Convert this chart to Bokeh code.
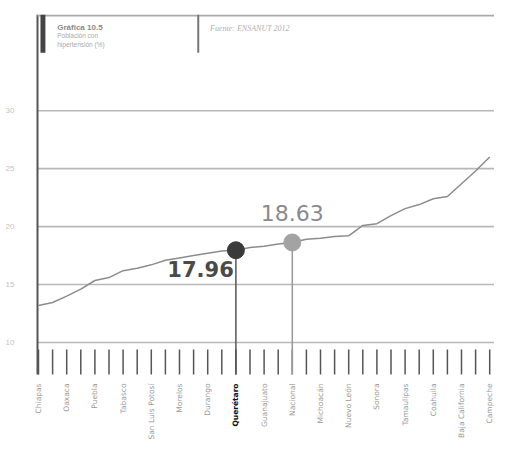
import math
from bokeh.plotting import figure
from bokeh.models import FixedTicker, Label, BoxAnnotation
from bokeh.core.properties import value
from bokeh.embed import file_html
from bokeh.resources import INLINE

# ---- data ----
states = ["Chiapas", "Guerrero", "Oaxaca", "Quintana Roo", "Puebla", "Hidalgo",
          "Tabasco", "Tlaxcala", "San Luis Potosí", "Zacatecas", "Morelos",
          "Veracruz", "Durango", "Yucatán", "Querétaro", "Aguascalientes",
          "Guanajuato", "México", "Nacional", "Jalisco", "Michoacán",
          "Distrito Federal", "Nuevo León", "Nayarit", "Sonora", "Sinaloa",
          "Tamaulipas", "Colima", "Coahuila", "Chihuahua", "Baja California",
          "Baja California Sur", "Campeche"]
values = [13.2, 13.45, 14.0, 14.6, 15.35, 15.6, 16.2, 16.4, 16.7, 17.1, 17.3,
          17.5, 17.7, 17.9, 17.96, 18.2, 18.3, 18.5, 18.63, 18.9, 19.0, 19.15,
          19.2, 20.1, 20.25, 20.95, 21.55, 21.9, 22.4, 22.6, 23.7, 24.8, 26.0]
y_ticks = [10, 15, 20, 25, 30]
highlight = "Querétaro"
national = "Nacional"
title = "Gráfica 10.5"
subtitle = ["Población con", "hipertensión (%)"]
source_txt = "Fuente: ENSANUT 2012"

idx = list(range(len(states)))
qi = states.index(highlight)
ni = states.index(national)
base = y_ticks[0]
px = 1 / 11.59   # one pixel in y data units
pxx = 1 / 14.1   # one pixel in x data units

y_top = 38.3
y_bottom = base - 106 * px
x_start = -8 * pxx
x_end = x_start + 464 * pxx
axis_x = -1 * pxx

p = figure(width=494, height=448, x_range=(x_start, x_end), y_range=(y_bottom, y_top),
           output_backend="svg", toolbar_location=None,
           min_border_left=30, min_border_right=0, min_border_top=14,
           min_border_bottom=0)
p.outline_line_color = None
p.xaxis.visible = False
p.xgrid.visible = False
p.ygrid.visible = False

# y axis (labels only)
p.yaxis.ticker = FixedTicker(ticks=y_ticks)
p.yaxis.axis_line_color = None
p.yaxis.major_tick_line_color = None
p.yaxis.minor_tick_line_color = None
p.yaxis.major_label_text_color = "#c4c4c4"
p.yaxis.major_label_text_font_size = "8px"
p.yaxis.major_label_standoff = 10

# horizontal grid lines starting at the axis
p.segment(x0=[axis_x] * len(y_ticks), y0=y_ticks, x1=[x_end] * len(y_ticks), y1=y_ticks,
          line_color="#b8b8b8", line_width=1.6)

tick_top = base - 7 * px
tick_bot = base - 32 * px
label_y = base - 41 * px

# vertical axis line
p.segment(x0=[axis_x], y0=[y_top], x1=[axis_x], y1=[tick_bot], line_color="#555555", line_width=2)

# category ticks
p.segment(x0=idx, y0=[tick_top] * len(idx), x1=idx, y1=[tick_bot] * len(idx),
          line_color="#555555", line_width=1.5)

# category labels (every other)
lab_x = [i for i in idx if i % 2 == 0 and i != qi]
p.text(x=lab_x, y=[label_y] * len(lab_x), text=[states[i] for i in lab_x],
       angle=math.pi / 2, text_align="right", text_baseline="middle",
       text_font=value("DejaVu Sans"), text_font_size="7.5px", text_color="#9a9a9a")
p.text(x=[qi], y=[label_y], text=[highlight], angle=math.pi / 2,
       text_align="right", text_baseline="middle", text_font=value("DejaVu Sans"),
       text_font_style="bold", text_font_size="7.5px", text_color="#111111")

# header
p.segment(x0=[axis_x], y0=[y_top - 0.08], x1=[x_end], y1=[y_top - 0.08],
          line_color="#aaaaaa", line_width=2)
p.add_layout(BoxAnnotation(left=0.14, right=0.49, top=y_top, bottom=35.0,
                           fill_color="#444444", fill_alpha=1, line_color=None))
p.segment(x0=[11.33], y0=[35.0], x1=[11.33], y1=[y_top], line_color="#777777", line_width=2)
p.add_layout(Label(x=1.33, y=37.6, text=title, text_font="Liberation Sans",
                   text_font_style="bold", text_font_size="8px", text_color="#8a8a8a",
                   text_baseline="top"))
p.add_layout(Label(x=1.33, y=36.75, text=subtitle[0], text_font="Liberation Sans",
                   text_font_size="6.5px", text_color="#aaaaaa", text_baseline="top"))
p.add_layout(Label(x=1.33, y=36.05, text=subtitle[1], text_font="Liberation Sans",
                   text_font_size="6.5px", text_color="#aaaaaa", text_baseline="top"))
p.add_layout(Label(x=12.17, y=37.45, text=source_txt, text_font="Liberation Serif",
                   text_font_style="italic", text_font_size="8px", text_color="#b0b0b0",
                   text_baseline="top"))

# series
p.line(idx, values, line_color="#8c8c8c", line_width=1.5)
p.segment(x0=[qi, ni], y0=[tick_bot, tick_bot], x1=[qi, ni], y1=[values[qi], values[ni]],
          line_color=["#555555", "#999999"], line_width=1.5)
p.scatter([qi], [values[qi]], size=17, fill_color="#3a3a3a", line_color="#3a3a3a")
p.scatter([ni], [values[ni]], size=17, fill_color="#a3a3a3", line_color="#a3a3a3")

p.add_layout(Label(x=qi - 0.15, y=values[qi] - 1.65, text=f"{values[qi]:.2f}",
                   text_font="DejaVu Sans", text_font_style="bold", text_font_size="21px",
                   text_color="#4a4a4a", text_align="right", text_baseline="alphabetic"))
p.add_layout(Label(x=ni, y=values[ni] + 2.56, text=f"{values[ni]:.2f}",
                   text_font="DejaVu Sans", text_font_size="22px",
                   text_color="#8a8a8a", text_align="center", text_baseline="alphabetic"))

open("out.html", "w").write(file_html(p, INLINE))
